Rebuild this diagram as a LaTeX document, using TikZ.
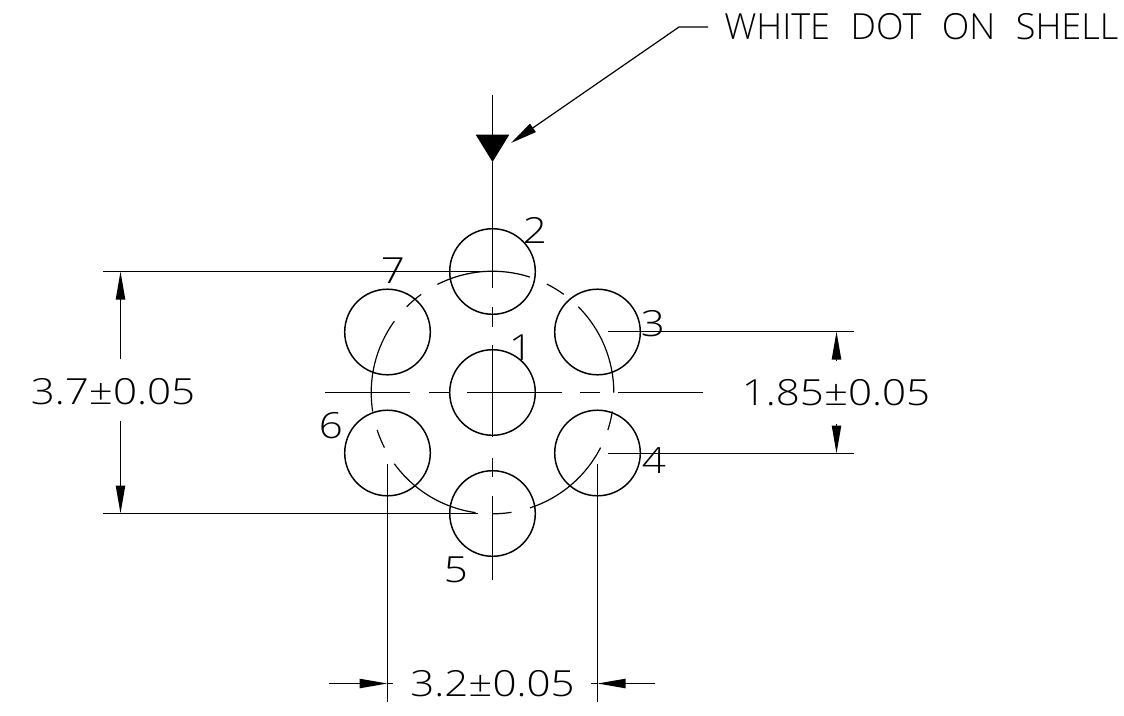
\documentclass[tikz,border=0pt]{standalone}
\usepackage{fontspec}
\usetikzlibrary{arrows.meta,calc}
\setmainfont{Open Sans Light}[WordSpace=2.2]
\newfontfamily\numfont{Open Sans Light}[FakeStretch=1.17]
\tikzset{
  cad/.style={line width=0.9pt,black},
  hole/.style={circle,draw,line width=1.1pt,minimum size=64.2pt,inner sep=0pt},
  lbl/.style={inner sep=0pt,font=\fontsize{27}{27}\selectfont},
  num/.style={inner sep=0pt,font=\fontsize{27}{27}\selectfont\numfont},
  dimtip/.style={-{Triangle[length=21pt,width=7pt]}},
  bigtip/.style={-{Triangle[length=20.5pt,width=25pt]}},
  leadtip/.style={-{Triangle[length=20pt,width=7.5pt]}}
}
\begin{document}
\begin{tikzpicture}[x=0.75pt,y=-0.75pt]
\useasboundingbox (0,0) rectangle (1124,715);
% holes
\node[hole] (c1) at (492.5,392.5) {};
\node[hole] (c2) at (492.5,271.5) {};
\node[hole] (c3) at (597.5,332) {};
\node[hole] (c4) at (597.5,453) {};
\node[hole] (c5) at (492.5,513.5) {};
\node[hole] (c6) at (387.5,453) {};
\node[hole] (c7) at (387.5,332) {};
% pitch circle: y axis points down, so the angles are mirrored
\foreach \a/\b in {-117/-72,-63.4/-54,-45/0,9/18,27/72,81/90,98/144,153/162,171/216,225/234}{
  \draw[cad] ($(c1)+(\a:121.3)$) arc[start angle=\a,end angle=\b,radius=121.3];
}
% centre lines
\foreach \p/\q in {325/410,429/449,467/562,580/600,618/703}{
  \draw[cad] (\p,392.5) -- (\q,392.5);
}
\foreach \p/\q in {162/288,307/327,345/437,458/477,496/580}{
  \draw[cad] (492.5,\p) -- (492.5,\q);
}
% white dot marker
\coordinate (mtop) at (492.5,95);
\coordinate (mtip) at (492.5,162);
\draw[cad,bigtip] (mtop) -- (mtip);
% leader
\node[lbl,anchor=west] (t) at (724,27) {WHITE DOT ON SHELL};
\coordinate (lend) at (708,27);
\coordinate (lknee) at (679,27);
\coordinate (ltip) at (511,143);
\draw[cad,leadtip] (lend) -- (lknee) -- (ltip);
% 3.7 dimension
\coordinate (a1) at (103,271.5); \coordinate (a2) at (480,271.5);
\coordinate (b1) at (103,513.5); \coordinate (b2) at (478,513.5);
\draw[cad] (a1) -- (a2);
\draw[cad] (b1) -- (b2);
\node[num] (d37) at (113,392) {3.7±0.05};
\coordinate (a3) at (120.5,359); \coordinate (a4) at (120.5,271.5);
\coordinate (b3) at (120.5,421); \coordinate (b4) at (120.5,513.5);
\draw[cad,dimtip] (a3) -- (a4);
\draw[cad,dimtip] (b3) -- (b4);
% 1.85 dimension
\coordinate (e1) at (608,331.5); \coordinate (e2) at (854,331.5);
\coordinate (f1) at (608,453.5); \coordinate (f2) at (854,453.5);
\draw[cad] (e1) -- (e2);
\draw[cad] (f1) -- (f2);
\node[num] (d185) at (836,392.5) {1.85±0.05};
\coordinate (e3) at (836.5,361); \coordinate (e4) at (836.5,331.5);
\coordinate (f3) at (836.5,424); \coordinate (f4) at (836.5,453.5);
\draw[cad,dimtip] (e3) -- (e4);
\draw[cad,dimtip] (f3) -- (f4);
% 3.2 dimension
\coordinate (g1) at (387.5,464); \coordinate (g2) at (387.5,702);
\coordinate (h1) at (597.5,464); \coordinate (h2) at (597.5,702);
\draw[cad] (g1) -- (g2);
\draw[cad] (h1) -- (h2);
\node[num] (d32) at (492.5,684) {3.2±0.05};
\coordinate (g3) at (329,683.5); \coordinate (g4) at (387.5,683.5);
\coordinate (h3) at (655,683.5); \coordinate (h4) at (597.5,683.5);
\draw[cad,dimtip] (g3) -- (g4);
\draw[cad,dimtip] (h3) -- (h4);
\draw[cad] (g4) -- (393,683.5);
\draw[cad] (h4) -- (591,683.5);
% pin numbers
\node[num] (n1) at (521,348) {1};
\node[num] (n2) at (535,230) {2};
\node[num] (n3) at (653,324) {3};
\node[num] (n4) at (654,461) {4};
\node[num] (n5) at (456,570) {5};
\node[num] (n6) at (331,426) {6};
\node[num] (n7) at (393,271) {7};
\end{tikzpicture}
\end{document}
